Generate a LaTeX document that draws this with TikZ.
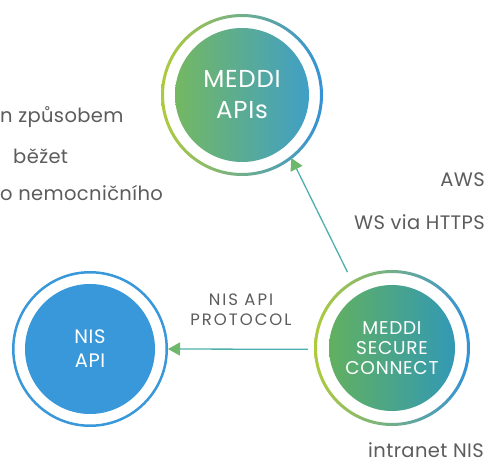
\documentclass[tikz,border=0pt]{standalone}
\usepackage{fontspec}
\setmainfont{Poppins}
\usetikzlibrary{arrows.meta}
\definecolor{txt}{HTML}{5C5C5C}
\definecolor{ringL}{HTML}{AFCB3C}
\definecolor{ringM}{HTML}{4EA8A6}
\definecolor{ringR}{HTML}{3392D8}
\definecolor{apiL}{HTML}{74B862}
\definecolor{apiR}{HTML}{409FC6}
\definecolor{scL}{HTML}{62B060}
\definecolor{scR}{HTML}{3299B4}
\definecolor{nisblue}{HTML}{3898D9}
\definecolor{arrowline}{HTML}{4DB0AE}
\definecolor{arrowtip}{HTML}{6DB86A}
\tikzset{
  hub/.style={circle, inner sep=0pt, outer sep=0pt, text=white, align=center},
  side/.style={text=txt, inner sep=0pt, font=\fontsize{19.5}{22}\selectfont\addfontfeatures{LetterSpace=2}},
  link/.style={draw=arrowline, line width=1.3pt, -{Triangle[length=12pt,width=13pt,color=arrowtip,fill=arrowtip]}},
}
\begin{document}
\begin{tikzpicture}[x=1pt,y=-1pt]
\useasboundingbox[fill=white] (0,0) rectangle (488,465);
\coordinate (capis) at (242,95);
\coordinate (csc) at (392,348);
\coordinate (cnis) at (90,349);
% rings
\shade[left color=ringL, middle color=ringM, right color=ringR, even odd rule]
  (capis) circle[radius=81pt] (capis) circle[radius=78pt];
\shade[left color=ringL, middle color=ringM, right color=ringR, even odd rule]
  (csc) circle[radius=78pt] (csc) circle[radius=75pt];
\fill[nisblue, even odd rule] (cnis) circle[radius=78pt] (cnis) circle[radius=75.5pt];
% inner discs
\shade[left color=apiL, right color=apiR] (capis) circle[radius=67pt];
\shade[shading=axis, shading angle=60, left color=scL, right color=scR] (csc) circle[radius=63pt];
\fill[nisblue] (cnis) circle[radius=65pt];
% nodes
\node[hub, minimum size=160pt, font=\fontsize{24.5}{31}\selectfont\addfontfeatures{LetterSpace=3}] (apis) at (capis) {MEDDI\\APIs};
\node[hub, minimum size=154pt, font=\fontsize{18.5}{20}\selectfont\addfontfeatures{LetterSpace=4}] (sc) at (csc) {MEDDI\\SECURE\\CONNECT};
\node[hub, minimum size=156pt, font=\fontsize{19.5}{24}\selectfont\addfontfeatures{LetterSpace=3}] (nis) at (cnis) {NIS\\API};
% connectors
\draw[link, shorten <=11pt] (sc.121) -- (apis.-52);
\draw[link, shorten <=7pt] (sc.181) -- (nis.0);
% labels
\node[side, anchor=west] (t1) at (0,117) {n způsobem};
\node[side, anchor=west] (t2) at (13,156) {běžet};
\node[side, anchor=west] (t3) at (0,193) {o nemocničního};
\node[side, anchor=east] (aws) at (485,180) {AWS};
\node[side, anchor=east] (ws) at (485,222) {WS via HTTPS};
\node[side, align=center, font=\fontsize{16.5}{20}\selectfont\addfontfeatures{LetterSpace=12}] (proto) at (241,310) {NIS API\\PROTOCOL};
\node[side, anchor=east] (intra) at (484,450) {intranet NIS};
\end{tikzpicture}
\end{document}
